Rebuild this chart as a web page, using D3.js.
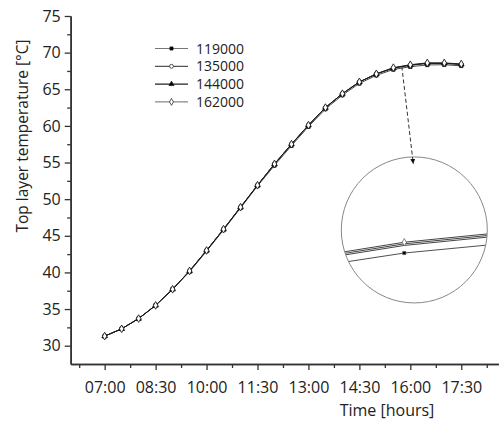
<!DOCTYPE html>
<html><head><meta charset="utf-8">
<script src="https://cdn.jsdelivr.net/npm/d3@7"></script>
<style>body{margin:0;background:#fff} text{font-family:"Open Sans",sans-serif;fill:#222}</style>
</head><body><svg id="c" width="499" height="422"></svg>
<script>
// ---------- data ----------
const times = ["07:00","07:30","08:00","08:30","09:00","09:30","10:00","10:30","11:00","11:30","12:00",
  "12:30","13:00","13:30","14:00","14:30","15:00","15:30","16:00","16:30","17:00","17:30"];
const seriesNames = ["119000","135000","144000","162000"];
const s119000 = [31.3,32.3,33.7,35.5,37.7,40.1,42.9,45.8,48.8,51.8,54.6,57.3,59.9,62.3,64.2,65.8,66.9,67.7,68.08,68.32,68.35,68.2];
const s135000 = [31.3,32.3,33.7,35.5,37.7,40.2,43.0,45.9,48.9,51.9,54.8,57.5,60.1,62.5,64.4,66.0,67.1,67.87,68.27,68.52,68.52,68.37];
const s144000 = [31.3,32.3,33.7,35.5,37.7,40.2,43.0,45.9,48.9,51.9,54.8,57.5,60.1,62.5,64.4,66.0,67.1,67.91,68.31,68.56,68.56,68.41];
const s162000 = [31.3,32.3,33.7,35.5,37.7,40.2,43.0,45.9,48.9,51.9,54.8,57.5,60.1,62.5,64.4,66.0,67.1,67.95,68.35,68.6,68.6,68.45];
const xTickLabels = ["07:00","08:30","10:00","11:30","13:00","14:30","16:00","17:30"];
const xMinorTicks = ["06:15","07:45","09:15","10:45","12:15","13:45","15:15","16:45","18:15"];
const yTickValues = [30,35,40,45,50,55,60,65,70,75];
const yMinorTicks = [32.5,37.5,42.5,47.5,52.5,57.5,62.5,67.5,72.5];
const xDomain = ["06:00","18:40"];
const yDomain = [27.5,75];
// magnified window
const zoomTimes = ["15:30","16:00","16:30"];
const zoomMarkerTime = "16:00";
const zoomTempDomain = [68.0,69.0];
const arrowFrom = ["15:45",68.1];
const insetCenter = ["16:07",45.8];

// ---------- setup ----------
const toMin = s => { const [h,m] = s.split(":").map(Number); return h*60+m; };
const series = [s119000,s135000,s144000,s162000];
const styles = [
  {line:"#777", sym:d3.symbolSquare, size:12, fill:"#000"},
  {line:"#555", sym:d3.symbolCircle, size:15, fill:"#fff"},
  {line:"#222", sym:d3.symbolTriangle, size:14, fill:"#000"},
  {line:"#888", sym:d3.symbolDiamond, size:17, fill:"#fff"}
];
const svg = d3.select("#c");
const m = {l:70.7, t:16, b:364};
const x = d3.scaleLinear().domain(xDomain.map(toMin)).range([m.l, 500.9]);
const y = d3.scaleLinear().domain(yDomain).range([m.b, m.t]);

// ---------- axes ----------
const axisColor = "#333";
const gx = svg.append("g").attr("transform",`translate(0,${m.b})`)
  .call(d3.axisBottom(x).tickValues(xTickLabels.map(toMin)).tickFormat((d,i)=>xTickLabels[i])
    .tickSize(6).tickPadding(12).tickSizeOuter(0));
const gxm = svg.append("g").attr("transform",`translate(0,${m.b})`)
  .call(d3.axisBottom(x).tickValues(xMinorTicks.map(toMin)).tickFormat("").tickSize(4).tickSizeOuter(0));
const gy = svg.append("g").attr("transform",`translate(${m.l},0)`)
  .call(d3.axisLeft(y).tickValues(yTickValues).tickSize(6).tickPadding(4).tickSizeOuter(0));
const gym = svg.append("g").attr("transform",`translate(${m.l},0)`)
  .call(d3.axisLeft(y).tickValues(yMinorTicks).tickFormat("").tickSize(3.5).tickSizeOuter(0));
[gx,gxm,gy,gym].forEach(g=>{
  g.selectAll(".domain").attr("stroke",axisColor).attr("stroke-width",1.6);
  g.selectAll(".tick line").attr("stroke",axisColor).attr("stroke-width",1.3);
  g.selectAll("text").style("font-size","16px").attr("fill","#222").style("font-family","'Open Sans',sans-serif");
});

svg.append("text").attr("x",387).attr("y",415.5).attr("text-anchor","middle")
  .style("font-size","16px").text("Time [hours]");
svg.append("text").attr("transform","translate(28,136) rotate(-90)").attr("text-anchor","middle")
  .style("font-size","15.5px").text("Top layer temperature [°C]");

// ---------- main lines ----------
const tm = times.map(toMin);
const line = d3.line().x((d,i)=>x(tm[i])).y(d=>y(d));
series.forEach((s,k)=>{
  svg.append("path").datum(s).attr("d",line).attr("fill","none")
    .attr("stroke",k===0?"#333":"#1a1a1a").attr("stroke-width",0.9);
});
series.forEach((s,k)=>{
  svg.append("g").selectAll("path").data(s).join("path")
    .attr("transform",(d,i)=>`translate(${x(tm[i])},${y(d)})`)
    .attr("d",d3.symbol().type(styles[k].sym).size(styles[k].size))
    .attr("fill",styles[k].fill).attr("stroke","#111").attr("stroke-width",0.8);
});

// ---------- legend ----------
const lg = svg.append("g");
seriesNames.forEach((n,k)=>{
  const yy = 48.5 + k*17.8;
  lg.append("line").attr("x1",155).attr("x2",188).attr("y1",yy).attr("y2",yy)
    .attr("stroke",styles[k].line).attr("stroke-width",1.2);
  lg.append("path").attr("transform",`translate(171.5,${yy})`)
    .attr("d",d3.symbol().type(styles[k].sym).size(styles[k].size*0.8))
    .attr("fill",styles[k].fill).attr("stroke","#111").attr("stroke-width",0.7);
  lg.append("text").attr("x",196).attr("y",yy).attr("dy","0.36em").style("font-size","14px").text(n);
});

// ---------- magnifier ----------
const R = 73;
const cx = x(toMin(insetCenter[0])), cy = y(insetCenter[1]);
svg.append("defs").append("clipPath").attr("id","lens").append("circle")
  .attr("cx",cx).attr("cy",cy).attr("r",R);
const zt = zoomTimes.map(toMin);
const zi = zoomTimes.map(t=>times.indexOf(t));
const ix = d3.scaleLinear().domain([zt[0],zt[2]]).range([cx-110,cx+90]);
const iy = d3.scaleLinear().domain(zoomTempDomain).range([cy+26.3,cy-13.7]);
const lens = svg.append("g").attr("clip-path","url(#lens)");
const iline = d3.line().x((d,i)=>ix(zt[i])).y(d=>iy(d));
series.forEach((s,k)=>{
  lens.append("path").datum(zi.map(i=>s[i])).attr("d",iline).attr("fill","none")
    .attr("stroke",k===0?"#222":"#444").attr("stroke-width",k===0?0.8:1);
});
const mi = times.indexOf(zoomMarkerTime);
series.forEach((s,k)=>{
  if(k===1||k===2) return;
  lens.append("path").attr("transform",`translate(${ix(toMin(zoomMarkerTime))},${iy(s[mi])})`)
    .attr("d",d3.symbol().type(styles[k].sym).size(k===0?10:16))
    .attr("fill",styles[k].fill).attr("stroke","#555").attr("stroke-width",0.7);
});
svg.append("circle").attr("cx",cx).attr("cy",cy).attr("r",R)
  .attr("fill","none").attr("stroke","#888").attr("stroke-width",1);

// arrow
svg.append("defs").append("marker").attr("id","ah").attr("viewBox","0 0 10 10")
  .attr("refX",10).attr("refY",5).attr("markerWidth",5).attr("markerHeight",7)
  .attr("markerUnits","userSpaceOnUse").attr("orient","auto")
  .append("path").attr("d","M0,0L10,5L0,10Z").attr("fill","#111");
svg.append("line")
  .attr("x1",x(toMin(arrowFrom[0]))).attr("y1",y(arrowFrom[1]))
  .attr("x2",cx-1).attr("y2",cy-R+7)
  .attr("stroke","#333").attr("stroke-width",1).attr("stroke-dasharray","4,2.5")
  .attr("marker-end","url(#ah)");
</script></body></html>
